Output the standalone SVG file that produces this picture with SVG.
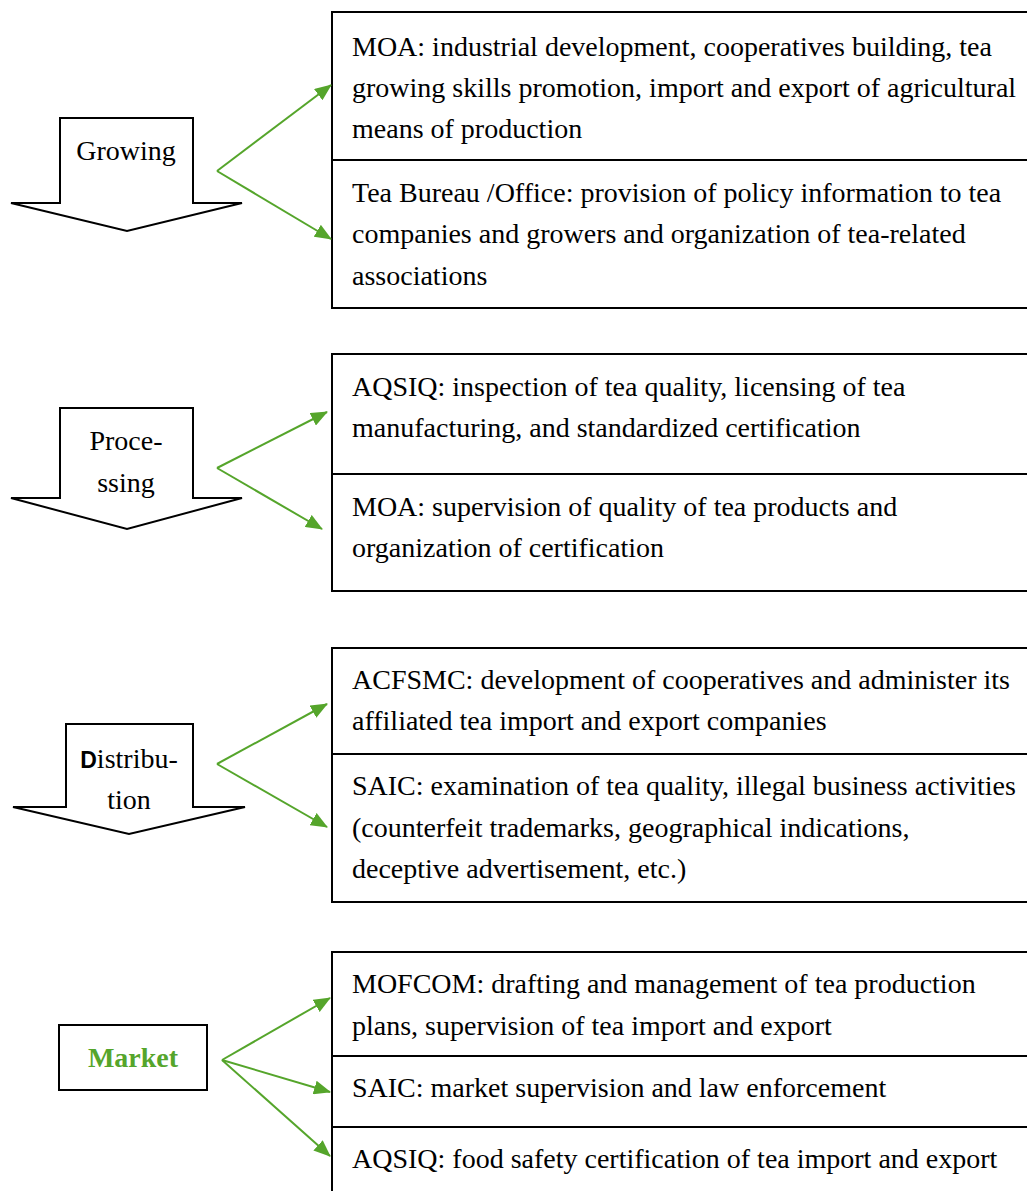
<svg xmlns="http://www.w3.org/2000/svg" width="1027" height="1191" viewBox="0 0 1027 1191">
<style>
.t{font-family:"Liberation Serif","Times New Roman",serif;font-size:28px;fill:#000}
.lbl{font-family:"Liberation Serif","Times New Roman",serif;font-size:28px;fill:#000;text-anchor:middle}
.box{fill:#fff;stroke:#000;stroke-width:2}
.arw{fill:#fff;stroke:#000;stroke-width:2;stroke-linejoin:miter}
.con{stroke:#55a52b;stroke-width:2;fill:none}
</style>
<defs>
<marker id="ah" markerUnits="userSpaceOnUse" markerWidth="18" markerHeight="14" refX="16" refY="7" orient="auto">
<path d="M0,0 L17,7 L0,14 Z" fill="#55a52b"/>
</marker>
</defs>
<rect width="1027" height="1191" fill="#fff"/>

<g id="growing">
<polygon class="arw" points="60,118 193,118 193,203 242,203 127,231 11,203 60,203"/>
<text class="lbl" x="126" y="160">Growing</text>
</g>
<g id="processing">
<polygon class="arw" points="60,408 193,408 193,498 242,498 127,529 11,498 60,498"/>
<text class="lbl" x="126" y="450">Proce-</text>
<text class="lbl" x="126" y="492">ssing</text>
</g>
<g id="distribution">
<polygon class="arw" points="66,724 193,724 193,807 245,807 129,834 13,807 66,807"/>
<text class="lbl" x="129" y="768"><tspan font-family="Liberation Sans, Arial, sans-serif" font-weight="bold" font-size="23">D</tspan>istribu-</text>
<text class="lbl" x="129" y="809">tion</text>
</g>
<g id="market">
<rect class="box" x="59" y="1025" width="148" height="65"/>
<text class="lbl" x="133" y="1067" font-weight="bold" style="fill:#55a52b">Market</text>
</g>

<g id="box-growing">
<rect class="box" x="332" y="12" width="720" height="296"/>
<line x1="332" y1="160" x2="1040" y2="160" stroke="#000" stroke-width="2"/>
<text class="t" x="352" y="56">MOA: industrial development, cooperatives building, tea</text>
<text class="t" x="352" y="97">growing skills promotion, import and export of agricultural</text>
<text class="t" x="352" y="138">means of production</text>
<text class="t" x="352" y="202">Tea Bureau /Office: provision of policy information to tea</text>
<text class="t" x="352" y="243">companies and growers and organization of tea-related</text>
<text class="t" x="352" y="285">associations</text>
</g>
<g id="box-processing">
<rect class="box" x="332" y="354" width="720" height="237"/>
<line x1="332" y1="474" x2="1040" y2="474" stroke="#000" stroke-width="2"/>
<text class="t" x="352" y="396">AQSIQ: inspection of tea quality, licensing of tea</text>
<text class="t" x="352" y="437">manufacturing, and standardized certification</text>
<text class="t" x="352" y="516">MOA: supervision of quality of tea products and</text>
<text class="t" x="352" y="557">organization of certification</text>
</g>
<g id="box-distribution">
<rect class="box" x="332" y="648" width="720" height="254"/>
<line x1="332" y1="754" x2="1040" y2="754" stroke="#000" stroke-width="2"/>
<text class="t" x="352" y="689">ACFSMC: development of cooperatives and administer its</text>
<text class="t" x="352" y="730">affiliated tea import and export companies</text>
<text class="t" x="352" y="795">SAIC: examination of tea quality, illegal business activities</text>
<text class="t" x="352" y="837">(counterfeit trademarks, geographical indications,</text>
<text class="t" x="352" y="878">deceptive advertisement, etc.)</text>
</g>
<g id="box-market">
<rect class="box" x="332" y="952" width="720" height="260"/>
<line x1="332" y1="1056" x2="1040" y2="1056" stroke="#000" stroke-width="2"/>
<line x1="332" y1="1127" x2="1040" y2="1127" stroke="#000" stroke-width="2"/>
<text class="t" x="352" y="993">MOFCOM: drafting and management of tea production</text>
<text class="t" x="352" y="1035">plans, supervision of tea import and export</text>
<text class="t" x="352" y="1097">SAIC: market supervision and law enforcement</text>
<text class="t" x="352" y="1168">AQSIQ: food safety certification of tea import and export</text>
</g>

<g id="connectors">
<line class="con" x1="217" y1="171" x2="331" y2="85" marker-end="url(#ah)"/>
<line class="con" x1="217" y1="171" x2="331" y2="239" marker-end="url(#ah)"/>
<line class="con" x1="217" y1="468" x2="327" y2="412" marker-end="url(#ah)"/>
<line class="con" x1="217" y1="468" x2="322" y2="529" marker-end="url(#ah)"/>
<line class="con" x1="217" y1="764" x2="327" y2="704" marker-end="url(#ah)"/>
<line class="con" x1="217" y1="764" x2="327" y2="827" marker-end="url(#ah)"/>
<line class="con" x1="222" y1="1060" x2="330" y2="998" marker-end="url(#ah)"/>
<line class="con" x1="222" y1="1060" x2="330" y2="1092" marker-end="url(#ah)"/>
<line class="con" x1="222" y1="1060" x2="330" y2="1156" marker-end="url(#ah)"/>
</g>
</svg>
